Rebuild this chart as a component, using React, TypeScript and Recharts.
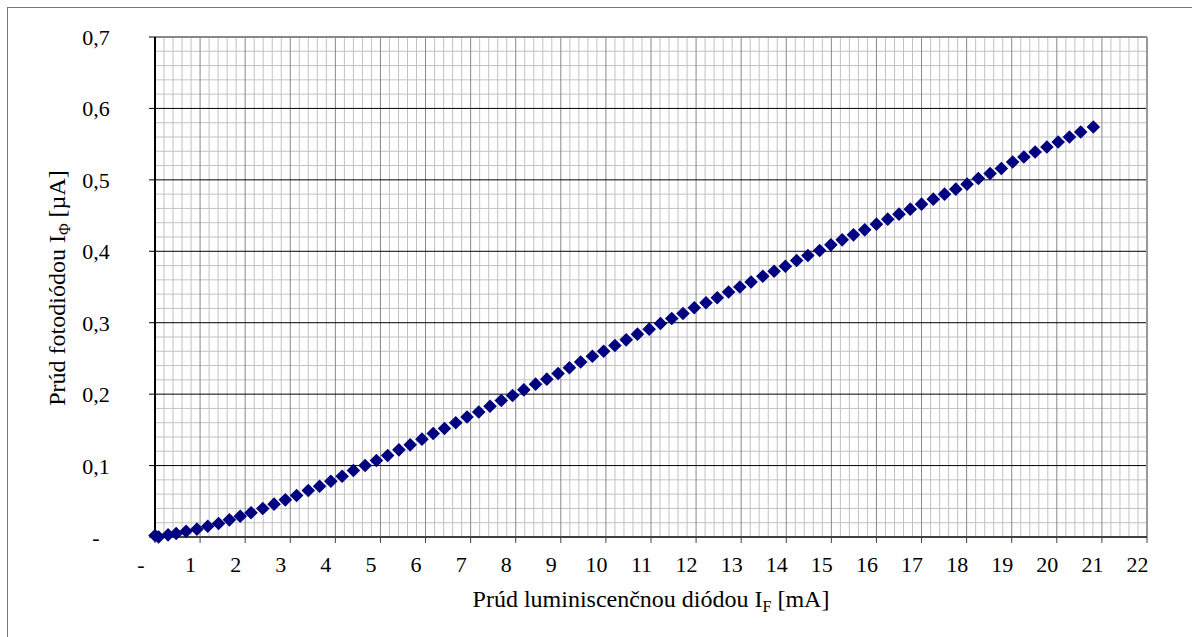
import { ScatterChart, Scatter, XAxis, YAxis, ReferenceLine, Label } from 'recharts';

// LED current [mA]
const ledCurrent = [
  0, 0.08, 0.29, 0.47, 0.69, 0.93, 1.17, 1.41, 1.65, 1.89, 2.13,
  2.39, 2.64, 2.89, 3.14, 3.4, 3.65, 3.9, 4.15, 4.4, 4.66, 4.91, 5.16,
  5.41, 5.66, 5.92, 6.17, 6.42, 6.67, 6.92, 7.18, 7.43, 7.68, 7.93, 8.18,
  8.44, 8.69, 8.94, 9.19, 9.44, 9.7, 9.95, 10.2, 10.45, 10.7, 10.96, 11.21,
  11.46, 11.71, 11.96, 12.22, 12.47, 12.72, 12.97, 13.22, 13.48, 13.73, 13.98,
  14.23, 14.48, 14.74, 14.99, 15.24, 15.49, 15.74, 16.0, 16.25, 16.5, 16.75,
  17.0, 17.26, 17.51, 17.76, 18.01, 18.26, 18.52, 18.77, 19.02, 19.27, 19.52,
  19.78, 20.03, 20.28, 20.53, 20.81,
];

// photodiode current [uA]
const photoCurrent = [
  0.002, 0.0, 0.003, 0.005, 0.008, 0.011, 0.015, 0.019, 0.024, 0.029, 0.034,
  0.04, 0.046, 0.052, 0.058, 0.065, 0.071, 0.078, 0.085, 0.093, 0.1, 0.107, 0.114,
  0.122, 0.129, 0.137, 0.145, 0.152, 0.16, 0.168, 0.175, 0.183, 0.191, 0.198, 0.206,
  0.214, 0.221, 0.229, 0.237, 0.245, 0.253, 0.26, 0.268, 0.276, 0.284, 0.291, 0.299,
  0.306, 0.313, 0.321, 0.328, 0.335, 0.343, 0.35, 0.357, 0.365, 0.372, 0.379,
  0.387, 0.394, 0.401, 0.409, 0.416, 0.423, 0.43, 0.438, 0.445, 0.452, 0.459,
  0.466, 0.473, 0.48, 0.487, 0.494, 0.502, 0.509, 0.516, 0.525, 0.532, 0.539,
  0.546, 0.553, 0.56, 0.567, 0.574,
];

const xTicks = [0, 1, 2, 3, 4, 5, 6, 7, 8, 9, 10, 11, 12, 13, 14, 15, 16, 17, 18, 19, 20, 21, 22];
const yTicks = [0, 0.1, 0.2, 0.3, 0.4, 0.5, 0.6, 0.7];

const data = ledCurrent.map((x, i) => ({ x, y: photoCurrent[i] }));

// minor grid: 5 divisions per major step
const xMinor = Array.from({ length: 22 * 5 + 1 }, (_, i) => Math.round(i * 20) / 100).filter(
  (v) => Math.round(v * 10) % 10 !== 0
);
const yMinor = Array.from({ length: 35 + 1 }, (_, i) => Math.round(i * 2) / 100).filter(
  (v) => Math.round(v * 100) % 10 !== 0
);

const FONT = '"Liberation Serif", "Times New Roman", serif';

const fmt = (v: number) => (v === 0 ? '-' : String(v).replace('.', ','));

const XTick = (props: any) => {
  const { x, y, payload } = props;
  const v = payload.value;
  return (
    <text x={x - (v === 0 ? 14 : 9.5)} y={y + 27} textAnchor="middle" fontFamily={FONT} fontSize={22} fill="#000">
      {fmt(v)}
    </text>
  );
};

const YTick = (props: any) => {
  const { x, y, payload } = props;
  return (
    <text x={x - 53} y={y + 8} textAnchor="middle" fontFamily={FONT} fontSize={22} fill="#000">
      {fmt(payload.value)}
    </text>
  );
};

const Diamond = (props: any) => {
  const { cx, cy } = props;
  const r = 6.8;
  return <polygon points={`${cx},${cy - r} ${cx + r},${cy} ${cx},${cy + r} ${cx - r},${cy}`} fill="#000080" />;
};

export default function App() {
  return (
    <div style={{ position: 'absolute', left: 0, top: 0, width: 1192, height: 637, overflow: 'hidden', background: '#fff' }}>
      <div style={{ position: 'absolute', left: 7, top: 7, width: 1200, height: 700, border: '1px solid #777' }} />
      <div style={{ position: 'absolute', left: 0, top: 0 }}>
        <ScatterChart width={1192} height={637} margin={{ top: 37, right: 45, left: 95, bottom: 72 }}>
          {xMinor.map((v) => (
            <ReferenceLine key={'xm' + v} x={v} stroke="#c2c2c2" strokeWidth={1} />
          ))}
          {yMinor.map((v) => (
            <ReferenceLine key={'ym' + v} y={v} stroke="#c2c2c2" strokeWidth={1} />
          ))}
          {xTicks.slice(1, -1).map((v) => (
            <ReferenceLine key={'xM' + v} x={v} stroke="#888" strokeWidth={1} />
          ))}
          {yTicks.slice(1, -1).map((v) => (
            <ReferenceLine key={'yM' + v} y={v} stroke="#000" strokeWidth={1} />
          ))}
          <ReferenceLine y={0.7} stroke="#888" strokeWidth={2} />
          <ReferenceLine x={22} stroke="#999" strokeWidth={2} />
          <XAxis
            type="number"
            dataKey="x"
            domain={[0, 22]}
            ticks={xTicks}
            interval={0}
            height={28}
            axisLine={{ stroke: '#404040', strokeWidth: 2 }}
            tickLine={{ stroke: '#404040', strokeWidth: 1 }}
            tickSize={6}
            tickMargin={2}
            tick={<XTick />}
          >
            <Label
              content={(p: any) => {
                const vb = p.viewBox;
                return (
                  <text x={vb.x + vb.width / 2} y={607} textAnchor="middle" fontFamily={FONT} fontSize={24} fill="#000">
                    Prúd luminiscenčnou diódou I
                    <tspan dy={5} fontSize={16}>F</tspan>
                    <tspan dy={-5}> [mA]</tspan>
                  </text>
                );
              }}
            />
          </XAxis>
          <YAxis
            type="number"
            dataKey="y"
            domain={[0, 0.7]}
            ticks={yTicks}
            interval={0}
            width={60}
            axisLine={{ stroke: '#000', strokeWidth: 2 }}
            tickLine={{ stroke: '#000', strokeWidth: 1 }}
            tickSize={6}
            tickMargin={0}
            tick={<YTick />}
          >
            <Label
              content={(p: any) => {
                const vb = p.viewBox;
                const cy = vb.y + vb.height / 2 + 1;
                return (
                  <text
                    x={65}
                    y={cy}
                    transform={`rotate(-90, 65, ${cy})`}
                    textAnchor="middle"
                    fontFamily={FONT}
                    fontSize={24}
                    fill="#000"
                  >
                    Prúd fotodiódou I
                    <tspan dy={5} fontSize={16}>Φ</tspan>
                    <tspan dy={-5}> [µA]</tspan>
                  </text>
                );
              }}
            />
          </YAxis>
          <Scatter data={data} shape={<Diamond />} isAnimationActive={false} />
        </ScatterChart>
      </div>
    </div>
  );
}
